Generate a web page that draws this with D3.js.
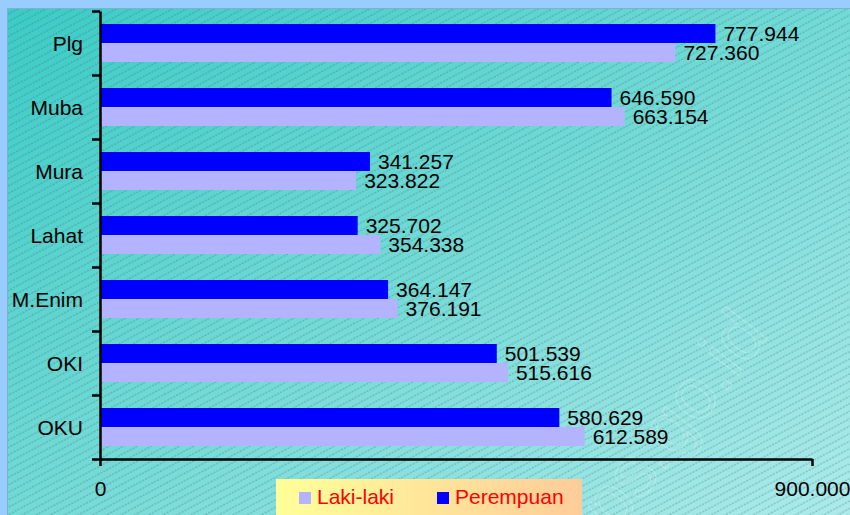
<!DOCTYPE html>
<html>
<head>
<meta charset="utf-8">
<script src="https://cdn.jsdelivr.net/npm/d3@7"></script>
<style>
  body { margin: 0; background: #99ccff; }
  text { font-family: "Liberation Sans", Arial, sans-serif; }
</style>
</head>
<body>
<script>
const width = 850,
      height = 515;

// data (jumlah penduduk per kabupaten)
const categories = ["Plg", "Muba", "Mura", "Lahat", "M.Enim", "OKI", "OKU"];
const lakiLaki = [727360, 663154, 323822, 354338, 376191, 515616, 612589];
const perempuan = [777944, 646590, 341257, 325702, 364147, 501539, 580629];
const seriesNames = ["Perempuan", "Laki-laki"];
const seriesColors = ["#0000ff", "#b3b3ff"];
const xTicks = [0, 900000];

const fmt = d3.formatLocale({ decimal: ",", thousands: ".", grouping: [3], currency: ["", ""] }).format(",");
const fontSize = 21;

const svg = d3.select("body")
    .append("svg")
    .attr("width", width)
    .attr("height", height);

const defs = svg.append("defs");

const bg = defs.append("linearGradient")
    .attr("id", "bg")
    .attr("x1", 0).attr("y1", 0).attr("x2", 1).attr("y2", 1);
bg.append("stop").attr("offset", "0%").attr("stop-color", "#3ccbc6");
bg.append("stop").attr("offset", "50%").attr("stop-color", "#74dad6");
bg.append("stop").attr("offset", "100%").attr("stop-color", "#aeebeb");

const hatch = defs.append("pattern")
    .attr("id", "hatch")
    .attr("patternUnits", "userSpaceOnUse")
    .attr("width", 40)
    .attr("height", 6.6)
    .attr("patternTransform", "rotate(-28)");
hatch.append("line")
    .attr("x1", 0).attr("x2", 40)
    .attr("y1", 3).attr("y2", 3)
    .attr("stroke", "#2f6f70")
    .attr("stroke-opacity", 0.6)
    .attr("stroke-width", 0.8)
    .attr("stroke-dasharray", "2,1.3");

const lg = defs.append("linearGradient")
    .attr("id", "legendBg")
    .attr("x1", 0).attr("y1", 0).attr("x2", 1).attr("y2", 0);
lg.append("stop").attr("offset", "0%").attr("stop-color", "#ffff99");
lg.append("stop").attr("offset", "100%").attr("stop-color", "#ffcc99");

// plot background
svg.append("rect")
    .attr("x", 7.5).attr("y", 8.5)
    .attr("width", width).attr("height", height)
    .attr("fill", "url(#bg)")
    .attr("stroke", "#7fb0d0");
svg.append("rect")
    .attr("x", 8).attr("y", 9)
    .attr("width", width).attr("height", height)
    .attr("fill", "url(#hatch)");

// faint watermark
svg.append("text")
    .attr("transform", "translate(770,335) rotate(-52)")
    .attr("text-anchor", "end")
    .attr("font-size", 72)
    .attr("fill", "none")
    .attr("stroke", "#ffffff")
    .attr("stroke-opacity", 0.22)
    .attr("stroke-width", 1.2)
    .text("bps.go.id");

const x = d3.scaleLinear()
    .domain([0, 900000])
    .range([100, 812]);

const y = d3.scaleBand()
    .domain(categories)
    .range([11, 459]);

const ySub = d3.scaleBand()
    .domain(seriesNames)
    .range([0, y.bandwidth()])
    .paddingOuter(0.684)
    .paddingInner(0);

const rows = categories.map((c, i) => ({
  cat: c,
  values: [
    { name: "Perempuan", value: perempuan[i] },
    { name: "Laki-laki", value: lakiLaki[i] }
  ]
}));

const groups = svg.append("g")
    .selectAll("g")
    .data(rows)
    .enter().append("g")
    .attr("transform", d => `translate(0,${y(d.cat)})`);

groups.selectAll("rect")
    .data(d => d.values)
    .enter().append("rect")
    .attr("x", x(0))
    .attr("y", d => ySub(d.name))
    .attr("width", d => x(d.value) - x(0))
    .attr("height", ySub.bandwidth())
    .attr("fill", d => seriesColors[seriesNames.indexOf(d.name)]);

groups.selectAll("text")
    .data(d => d.values)
    .enter().append("text")
    .attr("x", d => x(d.value) + 8)
    .attr("y", d => ySub(d.name) + ySub.bandwidth() / 2 + 7.5)
    .attr("font-size", fontSize)
    .attr("fill", "#000")
    .text(d => fmt(d.value));

// y axis: category labels
const yAxis = svg.append("g")
    .attr("transform", "translate(100,0)")
    .call(d3.axisLeft(y).tickSize(0).tickPadding(17));
yAxis.select(".domain").remove();
yAxis.selectAll("text")
    .attr("font-size", fontSize)
    .attr("fill", "#000")
    .attr("dy", null)
    .attr("y", 7.5)
    .style("font-family", "'Liberation Sans', Arial, sans-serif");

// y axis: band boundary ticks
const yb = d3.scaleLinear().domain([0, categories.length]).range([459, 11]);
const yTicksG = svg.append("g")
    .attr("transform", "translate(100,0)")
    .call(d3.axisLeft(yb).ticks(categories.length).tickSize(8).tickSizeOuter(0).tickFormat(""));
yTicksG.selectAll("line, path")
    .attr("stroke", "#000")
    .attr("stroke-width", 2.5);

// x axis
const xAxis = svg.append("g")
    .attr("transform", "translate(0,459)")
    .call(d3.axisBottom(x).tickValues(xTicks).tickSize(7).tickSizeOuter(0).tickFormat(fmt));
xAxis.selectAll("line, path")
    .attr("stroke", "#000")
    .attr("stroke-width", 2.5);
xAxis.selectAll("text")
    .attr("font-size", fontSize)
    .attr("fill", "#000")
    .attr("dy", null)
    .attr("y", 37)
    .style("font-family", "'Liberation Sans', Arial, sans-serif");

// legend
const legend = svg.append("g");
legend.append("rect")
    .attr("x", 276).attr("y", 479)
    .attr("width", 306).attr("height", 40)
    .attr("fill", "url(#legendBg)");

const legendItems = [
  { name: "Laki-laki", color: seriesColors[1], x: 299 },
  { name: "Perempuan", color: seriesColors[0], x: 437 }
];
const li = legend.selectAll("g.item")
    .data(legendItems)
    .enter().append("g")
    .attr("class", "item");
li.append("rect")
    .attr("x", d => d.x).attr("y", 492)
    .attr("width", 12).attr("height", 12)
    .attr("fill", d => d.color);
li.append("text")
    .attr("x", d => d.x + 18)
    .attr("y", 504)
    .attr("font-size", fontSize)
    .attr("fill", "#ff0000")
    .text(d => d.name);
</script>
</body>
</html>
